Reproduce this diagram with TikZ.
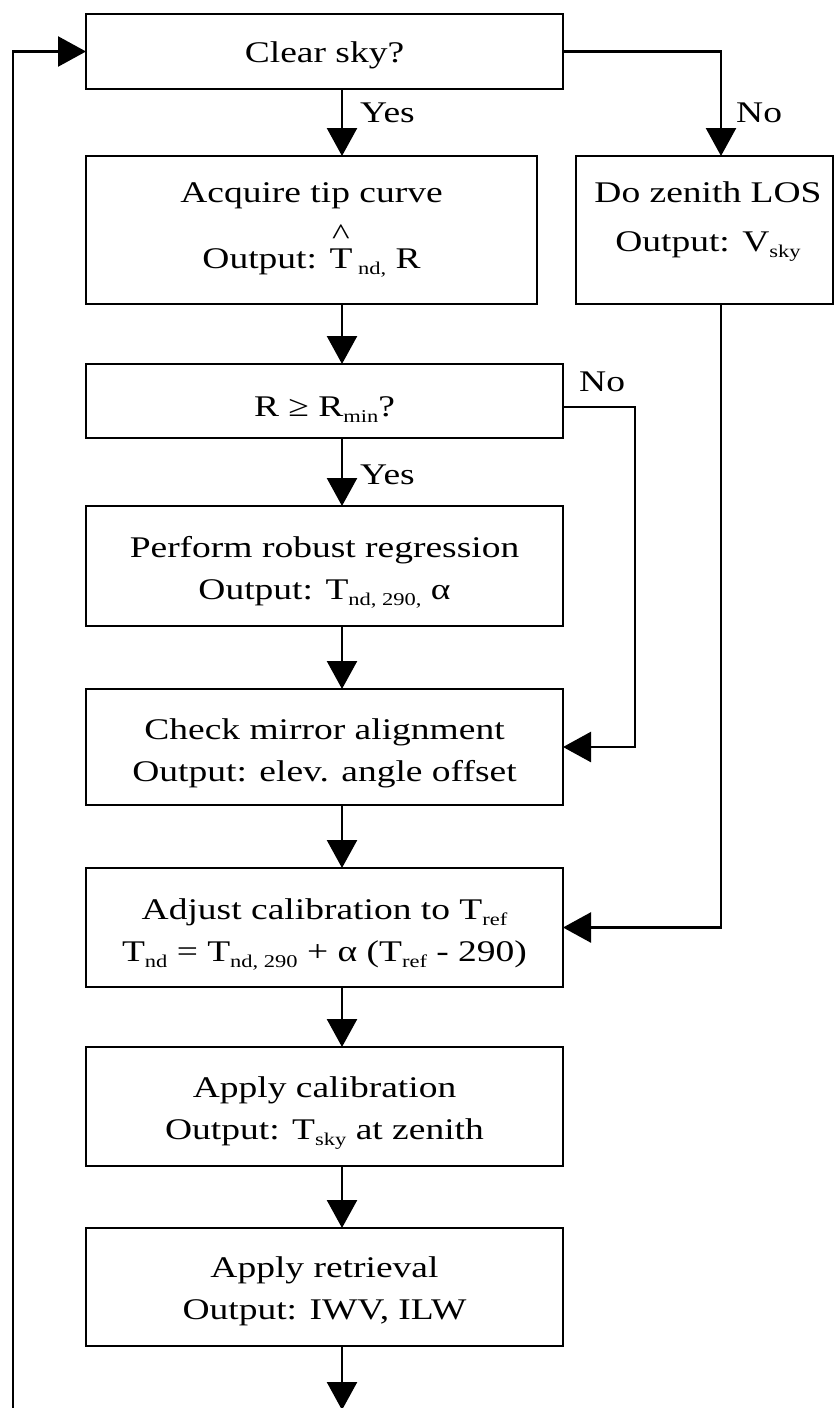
\documentclass[tikz,border=0pt]{standalone}
\usepackage{fontspec}
\setmainfont{Liberation Serif}[FakeStretch=1.25]
\usetikzlibrary{arrows.meta}
\newcommand\sbs[1]{\raisebox{-6pt}{\fontsize{18pt}{18pt}\selectfont #1}}
\newcommand\hatT{\setbox0\hbox{T}\rlap{\hbox to\wd0{\hss\raisebox{24pt}{\char"5E}\hss}}T}
\newcommand\mystrut[1]{\rule{0pt}{#1}}
\begin{document}
\begin{tikzpicture}[x=1pt,y=-1pt,
  font=\fontsize{30pt}{42pt}\selectfont,
  blk/.style={draw=black, line width=2.8pt, inner sep=0pt, outer sep=0pt, align=center},
  conn/.style={line width=2.5pt, -{Triangle[length=28pt,width=30pt]}},
  lbl/.style={inner sep=0pt, anchor=west}]
\useasboundingbox (0,0) rectangle (835,1408);
% boxes
\node[blk, minimum width=477pt, minimum height=75pt] (clear) at (324.5,51.5) {\mystrut{29pt}Clear sky?};
\node[blk, minimum width=451pt, minimum height=148pt] (acq) at (311.5,230) {Acquire tip curve\\[15pt]Output: \hatT\sbs{~nd,} R};
\node[blk, minimum width=257pt, minimum height=148pt] (zen) at (704.5,230) {};
\node[align=center, inner sep=0pt] (zentext) at (708,222) {Do zenith LOS\\[7pt]Output: V\sbs{sky}};
\node[blk, minimum width=477pt, minimum height=74pt] (rmin) at (324.5,401) {\mystrut{36pt}R ≥ R\sbs{min}?};
\node[blk, minimum width=477pt, minimum height=120pt] (rob) at (324.5,566) {\mystrut{34pt}Perform robust regression\\Output: T\sbs{nd, 290,} α};
\node[blk, minimum width=477pt, minimum height=116pt] (chk) at (324.5,747) {\mystrut{34pt}Check mirror alignment\\Output: elev. angle offset};
\node[blk, minimum width=477pt, minimum height=119pt] (adj) at (324.5,927.5) {\mystrut{34pt}Adjust calibration to T\sbs{ref}\\T\sbs{nd} = T\sbs{nd, 290} + α (T\sbs{ref} - 290)};
\node[blk, minimum width=477pt, minimum height=119pt] (app) at (324.5,1106.5) {\mystrut{34pt}Apply calibration\\Output: T\sbs{sky} at zenith};
\node[blk, minimum width=477pt, minimum height=118pt] (ret) at (324.5,1287) {\mystrut{30pt}Apply retrieval\\Output: IWV, ILW};
% helper coordinates
\coordinate (ax) at (342,0);
\coordinate (nx) at (721,0);
\coordinate (rn) at (635,407);
\coordinate (lb) at (13,1410);
\coordinate (endb) at (342,1410);
% connectors
\draw[conn] (clear.south -| ax) -- (acq.north -| ax);
\draw[conn] (clear.east) -| (nx |- zen.north);
\draw[conn] (acq.south -| ax) -- (rmin.north -| ax);
\draw[conn] (rmin.south -| ax) -- (rob.north -| ax);
\draw[conn] (rmin.east |- rn) -- (rn) |- (chk.east);
\draw[conn] (rob.south -| ax) -- (chk.north -| ax);
\draw[conn] (chk.south -| ax) -- (adj.north -| ax);
\draw[conn] (zen.south -| nx) |- (adj.east);
\draw[conn] (adj.south -| ax) -- (app.north -| ax);
\draw[conn] (app.south -| ax) -- (ret.north -| ax);
\draw[conn] (ret.south -| ax) -- (endb);
\draw[conn] (lb) |- (clear.west);
% labels
\node[lbl] (yes1) at (360,113) {Yes};
\node[lbl] (no1) at (736,113) {No};
\node[lbl] (yes2) at (360,475) {Yes};
\node[lbl] (no2) at (579,382) {No};
\end{tikzpicture}
\end{document}
